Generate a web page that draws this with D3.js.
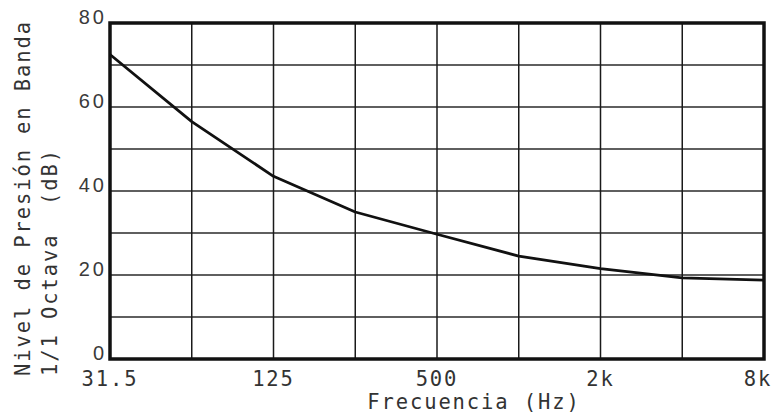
<!DOCTYPE html>
<html>
<head>
<meta charset="utf-8">
<script src="https://cdn.jsdelivr.net/npm/d3@7"></script>
<style>
  body { margin: 0; background: #fff; }
  .mono { font-family: "DejaVu Sans Mono", "Liberation Mono", monospace; fill: #333; }
  .sans { font-family: "Liberation Sans", Arial, sans-serif; fill: #3a3a3a; }
</style>
</head>
<body>
<svg id="chart"></svg>
<script>
// octave bands and measured level (dB)
const bands = ["31.5", "63", "125", "250", "500", "1k", "2k", "4k", "8k"];
const levels = [72.5, 56.5, 43.5, 35, 29.7, 24.5, 21.5, 19.3, 18.8];
const shownBands = ["31.5", "125", "500", "2k", "8k"];
const yTicks = [0, 20, 40, 60, 80];
const yGrid = [10, 20, 30, 40, 50, 60, 70];

const W = 771, H = 415;
const plotLeft = 110, plotRight = 764, plotTop = 23, plotBottom = 359;
const FS = 20.5, LS = 1.9; // typewriter-like text

const svg = d3.select("#chart")
    .attr("width", W)
    .attr("height", H);

svg.append("rect").attr("width", W).attr("height", H).attr("fill", "#fff");

const x = d3.scalePoint()
    .domain(bands)
    .range([plotLeft, plotRight]);

const y = d3.scaleLinear()
    .domain([0, 80])
    .range([plotBottom, plotTop]);

// horizontal grid
svg.append("g")
    .selectAll("line")
    .data(yGrid)
    .join("line")
        .attr("x1", plotLeft)
        .attr("x2", plotRight)
        .attr("y1", d => y(d))
        .attr("y2", d => y(d))
        .attr("stroke", "#2a2a2a")
        .attr("stroke-width", 1.4);

// vertical grid
svg.append("g")
    .selectAll("line")
    .data(bands.slice(1, -1))
    .join("line")
        .attr("x1", d => x(d))
        .attr("x2", d => x(d))
        .attr("y1", plotTop)
        .attr("y2", plotBottom)
        .attr("stroke", "#1a1a1a")
        .attr("stroke-width", 1.5);

// frame
svg.append("rect")
    .attr("x", plotLeft)
    .attr("y", plotTop)
    .attr("width", plotRight - plotLeft)
    .attr("height", plotBottom - plotTop)
    .attr("fill", "none")
    .attr("stroke", "#111")
    .attr("stroke-width", 3.5);

// curve (hand-drawn, straight between bands)
const line = d3.line()
    .x((d, i) => x(bands[i]))
    .y(d => y(d));

svg.append("path")
    .datum(levels)
    .attr("d", line)
    .attr("fill", "none")
    .attr("stroke", "#111")
    .attr("stroke-width", 2.8)
    .attr("stroke-linejoin", "round");

// y tick labels
svg.append("g")
    .selectAll("text")
    .data(yTicks)
    .join("text")
        .attr("class", "sans")
        .attr("x", plotLeft - 3)
        .attr("y", d => y(d) + 1)
        .attr("text-anchor", "end")
        .attr("font-size", 20)
        .attr("letter-spacing", 3)
        .text(d => d);

// x tick labels
svg.append("g")
    .selectAll("text")
    .data(shownBands)
    .join("text")
        .attr("class", "mono")
        .attr("x", d => x(d) - (d === "8k" ? 6 : 0))
        .attr("y", 386)
        .attr("text-anchor", "middle")
        .attr("font-size", FS)
        .attr("letter-spacing", LS)
        .text(d => d);

// x title
svg.append("text")
    .attr("class", "mono")
    .attr("x", 474)
    .attr("y", 409)
    .attr("text-anchor", "middle")
    .attr("font-size", FS)
    .attr("letter-spacing", LS)
    .text("Frecuencia (Hz)");

// y title, two lines
const yTitle = ["Nivel de Presión en Banda", "1/1 Octava  (dB)"];
svg.append("g")
    .selectAll("text")
    .data(yTitle)
    .join("text")
        .attr("class", "mono")
        .attr("transform", (d, i) => `translate(${i === 0 ? 30 : 57}, 376) rotate(-90)`)
        .attr("font-size", FS)
        .attr("letter-spacing", LS)
        .style("white-space", "pre")
        .text(d => d);
</script>
</body>
</html>
